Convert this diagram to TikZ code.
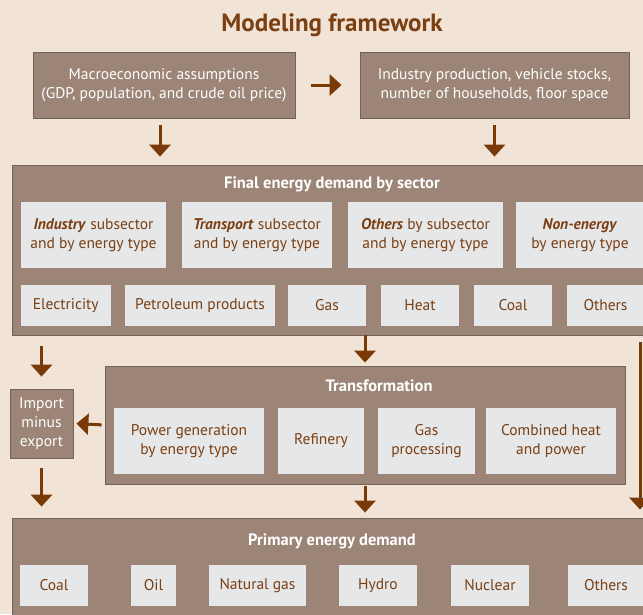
\documentclass[tikz,border=0pt]{standalone}
\usepackage{fontspec}
\setmainfont{PT Sans}
\usetikzlibrary{arrows.meta}

\definecolor{bgbeige}{HTML}{F1E4D7}
\definecolor{boxtaupe}{HTML}{9C8577}
\definecolor{boxline}{HTML}{6F6259}
\definecolor{subgray}{HTML}{E6E7E8}
\definecolor{textbrown}{HTML}{7B3F12}
\definecolor{flowbrown}{HTML}{7A3A08}

\tikzset{
  bigbox/.style={draw=boxline, line width=0.8pt, fill=boxtaupe, inner sep=0pt},
  topbox/.style={bigbox, text=white, align=center, font=\fontsize{15.5}{19}\selectfont},
  subbox/.style={fill=subgray, inner sep=0pt, text=textbrown, align=center,
                 font=\fontsize{15.5}{19}\selectfont},
  boxtitle/.style={text=white, font=\bfseries\fontsize{16.5}{19}\selectfont},
  flow/.style={draw=flowbrown, line width=3pt, -{Triangle[width=21pt,length=12pt]}}
}

\begin{document}
\begin{tikzpicture}[x=1pt, y=-1pt]
    \clip (0,0) rectangle (643,614);
    \fill[bgbeige] (0,0) rectangle (643,614);

    % Title
    \node[text=textbrown, font=\bfseries\fontsize{25}{29}\selectfont] (title) at (332,25) {Modeling framework};

    % Input boxes
    \node[topbox, minimum width=262pt, minimum height=66pt] (macro) at (164,85)
        {Macroeconomic assumptions\\(GDP, population, and crude oil price)};
    \node[topbox, minimum width=269pt, minimum height=66pt] (indprod) at (494.5,85)
        {Industry production, vehicle stocks,\\number of households, floor space};

    % Final energy demand
    \node[bigbox, minimum width=648pt, minimum height=170pt] (final) at (336,250) {};
    \node[boxtitle] (finaltitle) at (332,184) {Final energy demand by sector};
    \node[subbox, minimum width=145pt, minimum height=66pt] (industry) at (93.5,235)
        {\textit{\textbf{Industry}} subsector\\and by energy type};
    \node[subbox, minimum width=150pt, minimum height=66pt] (transport) at (257,235)
        {\textit{\textbf{Transport}} subsector\\and by energy type};
    \node[subbox, minimum width=155pt, minimum height=66pt] (others) at (425.5,235)
        {\textit{\textbf{Others}} by subsector\\and by energy type};
    \node[subbox, minimum width=128pt, minimum height=66pt] (nonenergy) at (580,235)
        {\textit{\textbf{Non-energy}}\\by energy type};
    \node[subbox, minimum width=90pt, minimum height=41pt] (electricity) at (65.75,305.5) {Electricity};
    \node[subbox, minimum width=150pt, minimum height=41pt] (petroleum) at (200,305.5) {Petroleum products};
    \node[subbox, minimum width=78pt, minimum height=41pt] (gas) at (327,305.5) {Gas};
    \node[subbox, minimum width=78pt, minimum height=41pt] (heat) at (420,305.5) {Heat};
    \node[subbox, minimum width=78pt, minimum height=41pt] (coal) at (513,305.5) {Coal};
    \node[subbox, minimum width=77pt, minimum height=41pt] (fothers) at (605.5,305.5) {Others};

    % Import and transformation
    \node[topbox, minimum width=63pt, minimum height=69pt] (import) at (41.5,423.5)
        {Import\\minus\\export};
    \node[bigbox, minimum width=520pt, minimum height=118pt] (trans) at (365,425) {};
    \node[boxtitle] (transtitle) at (379,386) {Transformation};
    \node[subbox, minimum width=150pt, minimum height=66pt] (power) at (189,441)
        {Power generation\\by energy type};
    \node[subbox, minimum width=86pt, minimum height=66pt] (refinery) at (321,441) {Refinery};
    \node[subbox, minimum width=97pt, minimum height=66pt] (gasproc) at (426.5,441)
        {Gas\\processing};
    \node[subbox, minimum width=130pt, minimum height=66pt] (chp) at (551,441)
        {Combined heat\\and power};

    % Primary energy demand
    \node[bigbox, minimum width=648pt, minimum height=122pt] (primary) at (336,579) {};
    \node[boxtitle] (primtitle) at (332,541) {Primary energy demand};
    \node[subbox, minimum width=68pt, minimum height=41pt] (pcoal) at (54,585.5) {Coal};
    \node[subbox, minimum width=45pt, minimum height=41pt] (poil) at (153.5,585.5) {Oil};
    \node[subbox, minimum width=97pt, minimum height=41pt] (pgas) at (257.5,585.5) {Natural gas};
    \node[subbox, minimum width=78pt, minimum height=41pt] (phydro) at (378,585.5) {Hydro};
    \node[subbox, minimum width=78pt, minimum height=41pt] (pnuclear) at (490,585.5) {Nuclear};
    \node[subbox, minimum width=77pt, minimum height=41pt] (pothers) at (606,585.5) {Others};

    % Draw connections
    \coordinate (bypass) at (640,300);
    \draw[flow, shorten <=16pt, shorten >=18pt] (macro.east) -- (indprod.west);
    \draw[flow, shorten <=7pt, shorten >=8pt] ([xshift=-4pt]macro.south) -- ([xshift=-4pt]macro.south |- final.north);
    \draw[flow, shorten <=7pt, shorten >=8pt] (indprod.south) -- (indprod.south |- final.north);
    \draw[flow, shorten <=11pt, shorten >=12pt] (import.north |- final.south) -- (import.north);
    \draw[flow, shorten >=3pt] (trans.north |- final.south) -- (trans.north);
    \draw[flow, shorten <=7pt, shorten >=8pt] (bypass |- final.south) -- (bypass |- primary.north);
    \draw[flow, shorten <=3pt, shorten >=3pt] (trans.west) -- (import.east);
    \draw[flow, shorten <=10pt, shorten >=11pt] (import.south) -- (import.south |- primary.north);
    \draw[flow, shorten <=2pt, shorten >=5pt] (trans.south) -- (trans.south |- primary.north);
\end{tikzpicture}
\end{document}
